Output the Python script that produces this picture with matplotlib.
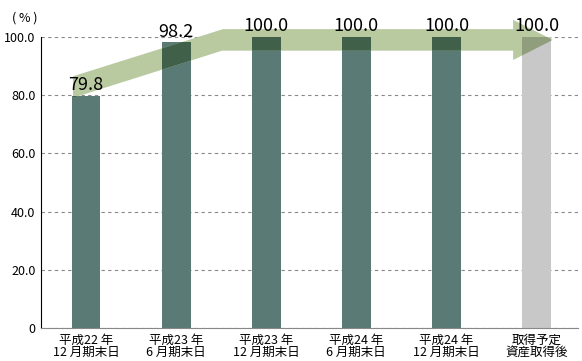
import matplotlib
matplotlib.use('Agg')
import matplotlib.pyplot as plt
from matplotlib.patches import Polygon, Rectangle
import numpy as np

plt.rcParams['font.family'] = ['Noto Sans CJK JP', 'DejaVu Sans']

# occupancy rate (%)
periods = ['平成22 年\n12 月期末日', '平成23 年\n6 月期末日', '平成23 年\n12 月期末日',
           '平成24 年\n6 月期末日', '平成24 年\n12 月期末日', '取得予定\n資産取得後']
rates = [79.8, 98.2, 100.0, 100.0, 100.0, 100.0]
value_labels = ['79.8', '98.2', '100.0', '100.0', '100.0', '100.0']
yticks = [0, 20, 40, 60, 80, 100]
ytick_labels = ['0', '20.0', '40.0', '60.0', '80.0', '100.0']

teal = np.array([90, 122, 118]) / 255
gray = np.array([200, 200, 200]) / 255
green = np.array([185, 201, 160]) / 255
bar_colors = [teal] * 5 + [gray]

fig = plt.figure(figsize=(5.82, 3.61), dpi=100)
ax = fig.add_axes([41 / 582, 1 - 328 / 361, 537 / 582, 291 / 361])

x = np.arange(len(rates))
bars = ax.bar(x, rates, width=0.32, color=bar_colors, zorder=2)

# trend arrow: rises from the first period, levels off at full occupancy
half = 3.7
head = 6.9
x0, x_bend, x_shaft, x_tip = -0.145, 1.51, 4.74, 5.18
y0 = rates[0] + 3.0
y1 = max(rates) - 1.0
arrow_pts = [
    (x0, y0 - half), (x_bend, y1 - half), (x_shaft, y1 - half),
    (x_shaft, y1 - head), (x_tip, y1), (x_shaft, y1 + head),
    (x_shaft, y1 + half), (x_bend + 0.01, y1 + half), (x0, y0 + half),
]
arrow = Polygon(arrow_pts, closed=True, facecolor=green, edgecolor='none',
                zorder=3, clip_on=False)
ax.add_patch(arrow)

# multiply-style overlap where the arrow crosses the bars
for b, c in zip(bars, bar_colors):
    r = Rectangle((b.get_x(), 0), b.get_width(), b.get_height(),
                  facecolor=c * green, edgecolor='none', zorder=4)
    ax.add_patch(r)
    r.set_clip_path(arrow)

for xi, v, lab in zip(x, rates, value_labels):
    ax.annotate(lab, (xi, v), xytext=(0, 4), textcoords='offset points',
                ha='center', va='baseline', fontsize=13, zorder=6,
                annotation_clip=False)

ax.set_xlim(-0.5, 5.46)
ax.set_ylim(0, 100)
ax.set_yticks(yticks)
ax.set_yticklabels(ytick_labels, fontsize=9)
ax.set_xticks(x)
ax.set_xticklabels(periods, fontsize=9, linespacing=0.95)
ax.tick_params(length=0, pad=4)
ax.tick_params(axis='x', pad=4)

ax.yaxis.grid(True, linestyle=(0, (3, 3)), color='#888888', linewidth=0.8, zorder=1)
ax.set_axisbelow(True)
for s in ['top', 'right']:
    ax.spines[s].set_visible(False)
ax.spines['left'].set_color('black')
ax.spines['bottom'].set_color('#888888')

fig.text(25 / 582, 1 - 18 / 361, '( % )', fontsize=9, ha='center', va='center')

fig.savefig('out.png', dpi=100)
